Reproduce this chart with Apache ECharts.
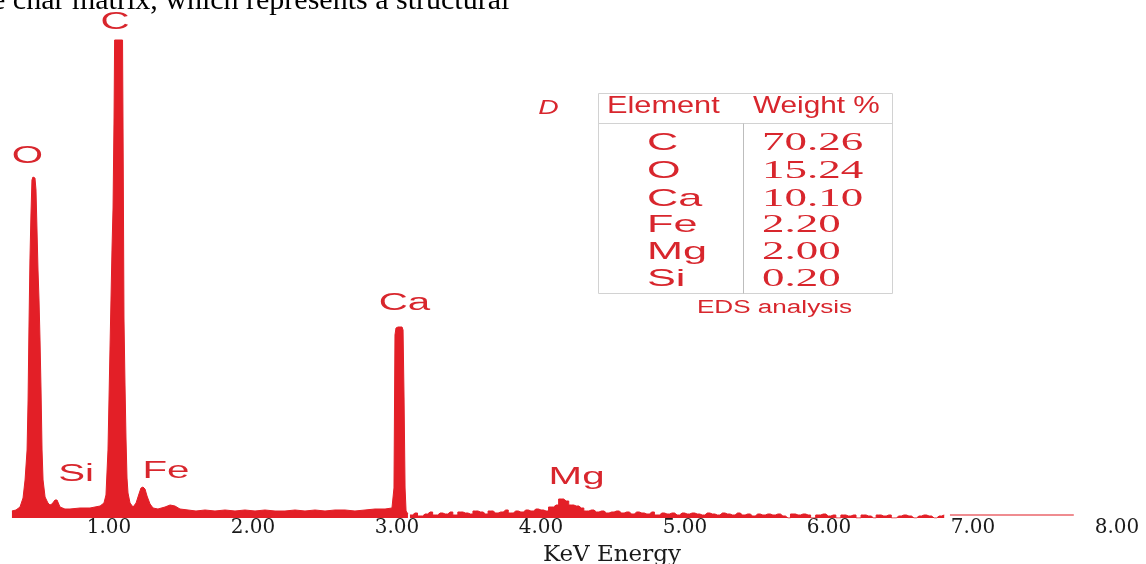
<!DOCTYPE html>
<html>
<head>
<meta charset="utf-8">
<script src="https://cdn.jsdelivr.net/npm/echarts@6/dist/echarts.min.js"></script>
<style>
html,body{margin:0;padding:0;background:#fff;}
#chart{width:1146px;height:564px;}
</style>
</head>
<body>
<div id="chart"></div>
<script>
// ---- Spectrum, low-energy part (keV, counts) ----
const energyA = [0.326,0.354,0.382,0.403,0.417,0.431,0.438,0.444,0.451,0.458,0.465,0.472,0.479,0.486,0.493,0.500,0.507,0.514,0.521,0.528,0.535,0.542,0.556,0.576,0.590,0.604,0.625,0.639,0.660,0.694,0.729,0.799,0.868,0.938,0.965,0.979,0.993,1.007,1.021,1.028,1.035,1.039,1.094,1.099,1.104,1.111,1.118,1.125,1.132,1.146,1.167,1.188,1.208,1.222,1.236,1.250,1.264,1.285,1.306,1.340,1.389,1.424,1.458,1.493,1.549,1.604,1.667,1.736,1.806,1.875,1.944,2.014,2.083,2.153,2.222,2.292,2.361,2.431,2.500,2.569,2.639,2.708,2.778,2.847,2.917,2.965,2.972,2.979,2.986,2.993,3.007,3.035,3.042,3.049,3.056,3.063,3.076];
const countsA = [70,80,110,200,380,680,1180,1880,2580,3030,3380,3410,3410,3400,3280,2880,2480,2180,1780,1280,680,380,210,150,130,140,180,180,110,90,90,100,100,120,150,230,680,1700,2700,3100,4000,4780,4780,3500,2000,1350,800,400,250,150,110,150,240,300,310,290,220,140,100,90,110,130,120,90,80,70,80,70,80,70,80,70,80,70,70,80,70,80,70,80,80,70,80,90,90,100,100,300,1830,1900,1910,1910,1880,1200,300,70,40];
// ---- Spectrum, high-energy noisy part: histogram bins ----
const binStartB = 3.09;
const binWidthB = 0.035;
const countsB = [30,50,20,40,60,30,50,40,60,30,60,50,40,70,60,40,70,50,60,80,50,70,60,80,70,90,80,70,110,130,190,170,130,120,100,70,80,60,70,50,60,70,50,60,40,60,50,40,60,30,50,40,50,30,50,40,50,40,30,50,40,30,50,40,30,50,30,40,20,40,30,40,30,40,20,0,40,30,40,30,0,30,40,20,30,0,30,20,30,0,30,20,0,30,20,30,0,20,30,20,0,20,30,20,0,20,30];
// ---- Flat tail ----
const energyC = [6.84, 7.70];
const countsC = [30, 30];
// ---- Axis ----
const tickValues = [1,2,3,4,5,6,7,8];
const tickLabels = ['1.00','2.00','3.00','4.00','5.00','6.00','7.00','8.00'];
// ---- Peak labels (anchor in keV, counts) ----
const peakNames = ['C','O','Ca','Si','Fe','Mg'];
const peakLabelE = [1.042,0.434,3.052,0.771,1.396,4.247];
const peakLabelC = [4950,3615,2140,430,460,400];
// ---- Inset table ----
const tableElements = ['C','O','Ca','Fe','Mg','Si'];
const tableWeights = ['70.26','15.24','10.10','2.20','2.00','0.20'];

const RED = '#e31f27';
const TXT_RED = '#d8262d';

const dataA = energyA.map((e,i)=>[e, countsA[i]]);
const dataB = countsB.map((c,i)=>[+(binStartB + binWidthB*i).toFixed(4), c]);
const dataC = energyC.map((e,i)=>[e, countsC[i]]);

const chart = echarts.init(document.getElementById('chart'), null, {renderer:'canvas'});
chart.setOption({
  animation: false,
  backgroundColor: '#fff',
  grid: {left: 8.2, right: 7.4, top: 0, bottom: 46, outerBoundsMode: 'none', containLabel: false},
  xAxis: {
    type: 'value', min: 0.3, max: 8.15,
    axisLine: {show: false}, axisTick: {show: false}, splitLine: {show: false},
    axisLabel: {
      customValues: tickValues,
      formatter: v => tickLabels[tickValues.indexOf(Math.round(v))] || '',
      fontFamily: 'DejaVu Serif', fontSize: 20, color: '#1a1a1a', margin: 0
    },
    name: 'KeV Energy', nameLocation: 'middle', nameGap: 26,
    nameTextStyle: {fontFamily: 'DejaVu Serif', fontSize: 23, color: '#1a1a1a', padding: [0,0,0,77]}
  },
  yAxis: {
    type: 'value', min: 0, max: 5180, show: false,
    axisLine: {show: false}, axisTick: {show: false}, axisLabel: {show: false}, splitLine: {show: false}
  },
  series: [
    {name: 'spectrumA', type: 'line', data: dataA, symbol: 'none', silent: true,
     lineStyle: {color: RED, width: 1}, areaStyle: {color: RED, opacity: 1}},
    {name: 'spectrumB', type: 'line', step: 'middle', data: dataB, symbol: 'none', silent: true,
     lineStyle: {color: RED, width: 1}, areaStyle: {color: RED, opacity: 1}},
    {name: 'spectrumC', type: 'line', data: dataC, symbol: 'none', silent: true,
     lineStyle: {color: '#ef8c90', width: 2}}
  ]
});

function txt(x, y, text, font, fill, align, sx) {
  return {type: 'text', x: x, y: y, scaleX: sx || 1, silent: true,
    style: {x: 0, y: 0, text: text, font: font, fill: fill,
      align: align, verticalAlign: 'middle', textAlign: align, textVerticalAlign: 'middle'}};
}

const g = [];
// text fragment at the top (from the page the figure was taken from)
g.push(txt(-8, 1, 'e char matrix, which represents a structural', '30px "Liberation Serif"', '#000', 'left', 1));
// peak labels anchored in data space
peakNames.forEach((n, i) => {
  const p = chart.convertToPixel({xAxisIndex: 0, yAxisIndex: 0}, [peakLabelE[i], peakLabelC[i]]);
  g.push(txt(p[0], p[1], n, '23px "Liberation Sans"', TXT_RED, 'center', 1.75));
});
// inset table
g.push({type: 'rect', silent: true, shape: {x: 598.5, y: 93.5, width: 294, height: 200},
  style: {fill: 'none', stroke: '#d2d2d2', lineWidth: 1}});
g.push({type: 'line', silent: true, shape: {x1: 598.5, y1: 123.5, x2: 892.5, y2: 123.5},
  style: {stroke: '#d2d2d2', lineWidth: 1}});
g.push({type: 'line', silent: true, shape: {x1: 743.5, y1: 123.5, x2: 743.5, y2: 293.5},
  style: {stroke: '#bdbdbd', lineWidth: 1}});
g.push(txt(607, 106, 'Element', '24px "Liberation Sans"', TXT_RED, 'left', 1.28));
g.push(txt(753, 106, 'Weight %', '24px "Liberation Sans"', TXT_RED, 'left', 1.24));
const rowY = [143.5, 171.5, 199.5, 225.5, 252.5, 279];
tableElements.forEach((el, i) => {
  g.push(txt(647, rowY[i], el, '24px "Liberation Sans"', TXT_RED, 'left', 1.8));
  g.push(txt(762, rowY[i], tableWeights[i], '25px "Liberation Serif"', TXT_RED, 'left', 1.8));
});
g.push(txt(774.5, 308, 'EDS analysis', '18px "Liberation Sans"', TXT_RED, 'center', 1.45));
g.push(txt(548.5, 108, 'D', 'italic 21px "Liberation Sans"', TXT_RED, 'center', 1.35));

chart.setOption({graphic: {elements: g}});
</script>
</body>
</html>
